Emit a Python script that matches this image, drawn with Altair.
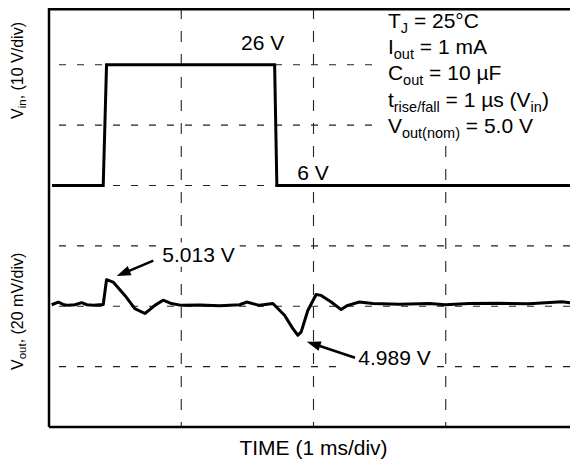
import math
import altair as alt
import pandas as pd

# ---------------- data ----------------
# time in ms (1 ms/div), Vin in volts
vin_t = [0.023, 0.410, 0.435, 1.706, 1.723, 4.000]
vin_v = [6, 6, 26, 26, 6, 6]

# Vout in volts (20 mV/div around 5.0 V)
vout_t = [0.020, 0.070, 0.106, 0.146, 0.196, 0.247, 0.287, 0.334, 0.410, 0.435,
          0.485, 0.574, 0.649, 0.725, 0.762, 0.800, 0.863, 0.926, 1.002, 1.140,
          1.291, 1.442, 1.494, 1.592, 1.693, 1.781, 1.844, 1.882, 1.907, 1.957,
          2.020, 2.058, 2.134, 2.209, 2.259, 2.347, 2.448, 2.649, 2.875, 2.996,
          3.177, 3.404, 3.630, 3.879, 4.000]
vout_v = [5.0005, 5.0014, 5.0006, 5.0003, 5.0005, 5.0012, 5.0005, 5.0003, 5.0006, 5.0088,
          5.0080, 5.0036, 4.9992, 4.9976, 4.9989, 5.0003, 5.0020, 5.0009, 5.0003, 5.0004,
          5.0002, 5.0005, 5.0014, 5.0003, 5.0009, 4.9970, 4.9926, 4.9904, 4.9915, 4.9986,
          5.0039, 5.0036, 5.0014, 4.9989, 5.0003, 5.0014, 5.0009, 5.0007, 5.0009, 5.0005,
          5.0009, 5.0010, 5.0008, 5.0015, 5.0009]

grid_t = [1, 2, 3]
grid_div = [1, 2, 3, 4, 5, 6]

# annotation anchors in (ms, divisions from bottom)
arrow_tail_t = [0.789, 2.314]
arrow_tail_d = [2.755, 1.148]
arrow_tip_t = [0.512, 1.949]
arrow_tip_d = [2.501, 1.413]

# ---------------- layout constants ----------------
W, H = 521, 419
PX_T = 132.25           # px per ms
PX_D = 60.37            # px per division
XMAX = W / PX_T
YMAX = H / PX_D
FONT = "Liberation Sans"
MAIN, SUB, SHIFT = 21, 14.5, 5

WIDTHS = {' ': 278, '(': 333, ')': 333, ',': 278, '.': 278, '/': 278, '=': 584,
          'A': 667, 'C': 722, 'E': 667, 'F': 611, 'I': 278, 'J': 500, 'M': 833,
          'T': 611, 'V': 667, 'a': 556, 'd': 556, 'e': 556, 'f': 278, 'i': 222,
          'l': 222, 'm': 833, 'n': 556, 'o': 556, 'r': 333, 's': 500, 't': 278,
          'u': 556, 'v': 500, 'µ': 576, '°': 400}


def tw(s, size):
    return sum(WIDTHS.get(c, 556) for c in s) / 1000.0 * size


def rich(runs, t0, d0, main=MAIN, sub=SUB, shift=SHIFT, rotated=False):
    rows = []
    off = 0.0
    for txt, is_sub in runs:
        size = sub if is_sub else main
        lead = len(txt) - len(txt.lstrip(' '))
        off += tw(' ' * lead, size)
        txt = txt.lstrip(' ')
        sh = shift if is_sub else 0
        if rotated:
            rows.append(dict(t=t0 + sh / PX_T, d=d0 + off / PX_D, text=txt, size=size, angle=270))
        else:
            rows.append(dict(t=t0 + off / PX_T, d=d0 - sh / PX_D, text=txt, size=size, angle=0))
        off += tw(txt, size)
    return rows, off


boxes = []


def box(t0, d0, width_px, lpad=5, rpad=5, tpad=4, bpad=5, size=MAIN):
    boxes.append(dict(t=t0 - lpad / PX_T, t2=t0 + (width_px + rpad) / PX_T,
                      d=d0 + (0.72 * size + tpad) / PX_D, d2=d0 - bpad / PX_D))


rows = []
for txt, t0, d0, lp in [("26 V", 1.452, 6.245, 5), ("6 V", 1.877, 4.091, 5),
                        ("5.013 V", 0.857, 2.738, 5), ("4.989 V", 2.339, 1.027, 15)]:
    r, w = rich([(txt, False)], t0, d0)
    rows += r
    box(t0, d0, w, lpad=lp)

cx = 2.0 - tw("TIME (1 ms/div)", MAIN) / 2 / PX_T
rows += rich([("TIME (1 ms/div)", False)], cx, -0.464)[0]

BX = 2.563
bl = [6.615, 6.178, 5.741, 5.303, 4.865]
block = [
    [("T", False), ("J", True), (" = 25°C", False)],
    [("I", False), ("out", True), (" = 1 mA", False)],
    [("C", False), ("out", True), (" = 10 µF", False)],
    [("t", False), ("rise/fall", True), (" = 1 µs (V", False), ("in", True), (")", False)],
    [("V", False), ("out(nom)", True), (" = 5.0 V", False)],
]
maxw = 0
for runs, b in zip(block, bl):
    r, w = rich(runs, BX, b)
    rows += r
    maxw = max(maxw, w)
boxes.append(dict(t=BX - 6 / PX_T, t2=XMAX, d=YMAX, d2=bl[-1] - 12 / PX_D))

rows += rich([("V", False), ("in", True), (", (10 V/div)", False)], -0.197, 5.102,
             main=16, sub=11.5, shift=3.5, rotated=True)[0]
rows += rich([("V", False), ("out", True), (", (20 mV/div)", False)], -0.197, 0.944,
             main=16, sub=11.5, shift=3.5, rotated=True)[0]
text_df = pd.DataFrame(rows)
box_df = pd.DataFrame(boxes)

# arrows
shaft_rows, head_rows = [], []
for i in range(len(arrow_tail_t)):
    dxp = (arrow_tip_t[i] - arrow_tail_t[i]) * PX_T
    dyp = -(arrow_tip_d[i] - arrow_tail_d[i]) * PX_D
    L = math.hypot(dxp, dyp)
    ux, uy = dxp / L, dyp / L
    ang = math.degrees(math.atan2(ux, -uy)) % 360
    end_t = arrow_tip_t[i] - ux * 9 / PX_T
    end_d = arrow_tip_d[i] + uy * 9 / PX_D
    shaft_rows.append(dict(k=i, o=0, t=arrow_tail_t[i], d=arrow_tail_d[i]))
    shaft_rows.append(dict(k=i, o=1, t=end_t, d=end_d))
    head_rows.append(dict(t=arrow_tip_t[i], d=arrow_tip_d[i], angle=ang))
shaft_df = pd.DataFrame(shaft_rows)
head_df = pd.DataFrame(head_rows)

xs = alt.Scale(domain=[0, XMAX], nice=False, zero=False)
ys = alt.Scale(domain=[0, YMAX], nice=False, zero=False)


def X(f):
    return alt.X(f, type="quantitative", scale=xs, axis=None)


def Y(f):
    return alt.Y(f, type="quantitative", scale=ys, axis=None)


dummy = pd.DataFrame({"a": [0]})

vgrid = alt.Chart(pd.DataFrame({"t": grid_t})).mark_rule(
    color="#222", strokeWidth=1.1, strokeDash=[11, 12]).encode(x=X("t"))
hgrid = alt.Chart(pd.DataFrame({"d": grid_div})).mark_rule(
    color="#222", strokeWidth=1.1, strokeDash=[7, 11]).encode(y=Y("d"))

bg = alt.Chart(box_df).mark_rect(color="white", opacity=1).encode(
    x=X("t"), x2="t2:Q", y=Y("d"), y2="d2:Q")

left_b = alt.Chart(dummy).mark_rule(color="black", strokeWidth=2.5).encode(x=alt.value(0))
top_b = alt.Chart(dummy).mark_rule(color="black", strokeWidth=2.5).encode(y=alt.value(1.25))
bot_b = alt.Chart(dummy).mark_rule(color="black", strokeWidth=2.5).encode(y=alt.value(H))

vin_line = alt.Chart(pd.DataFrame({"t": vin_t, "v": vin_v})).transform_calculate(
    d="4 + (datum.v - 6) / 10").mark_line(
    color="black", strokeWidth=3, strokeJoin="miter", clip=True).encode(
    x=X("t"), y=Y("d"), order="t:Q")

vout_line = alt.Chart(pd.DataFrame({"t": vout_t, "v": vout_v})).transform_calculate(
    d="2 + (datum.v - 5.0) / 0.020").mark_line(
    color="black", strokeWidth=3, strokeJoin="round", clip=True).encode(
    x=X("t"), y=Y("d"), order="t:Q")

shafts = alt.Chart(shaft_df).mark_line(color="black", strokeWidth=2.5).encode(
    x=X("t"), y=Y("d"), detail="k:N", order="o:Q")

HEAD = "M0,0L-0.7,2L0.7,2Z"
heads = alt.Chart(head_df).mark_point(
    shape=HEAD, filled=True, size=196, color="black", opacity=1, strokeWidth=0).encode(
    x=X("t"), y=Y("d"), angle=alt.Angle("angle:Q", scale=None))

texts = alt.Chart(text_df).mark_text(
    align="left", baseline="alphabetic", font=FONT, color="black").encode(
    x=X("t"), y=Y("d"), text="text:N",
    size=alt.Size("size:Q", scale=None, legend=None),
    angle=alt.Angle("angle:Q", scale=None))

chart = alt.layer(vgrid, hgrid, bg, left_b, top_b, bot_b, vin_line, vout_line,
                  shafts, heads, texts).properties(
    width=W, height=H,
    autosize=alt.AutoSizeParams(type="none"),
    padding={"left": 41, "top": 0, "right": 0, "bottom": 34},
).configure_view(stroke="transparent")

chart.save("out.html", embed_options={"renderer": "svg", "actions": False})
